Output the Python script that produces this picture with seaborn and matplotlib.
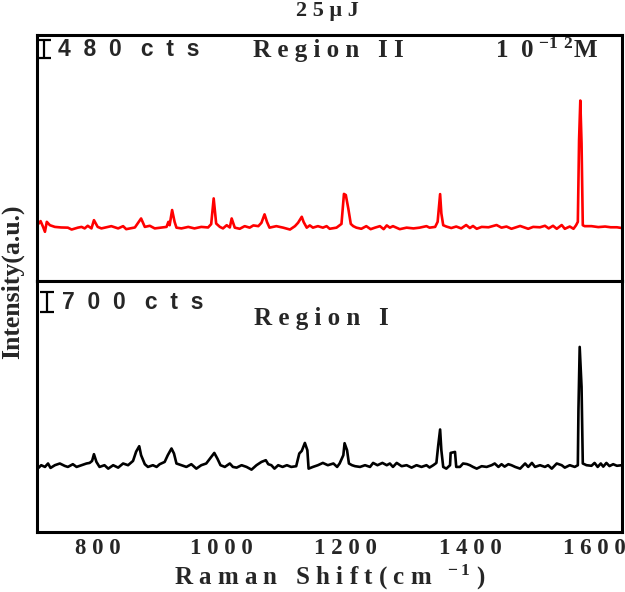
import pandas as pd
import matplotlib
matplotlib.use("Agg")
import matplotlib.pyplot as plt
import seaborn as sns

# Region II spectrum (red), Raman shift (cm-1) and intensity (cts, baseline ~0)
shift_top = [701, 705, 708, 712, 715, 718, 723, 731, 741, 752, 758, 768, 774, 779, 784, 790,
             794, 800, 806, 822, 833, 841, 846, 860, 870, 876, 884, 892, 911, 914, 916, 920,
             924, 927, 935, 946, 956, 967, 978, 983, 987, 991, 997, 1002, 1008, 1013, 1016,
             1021, 1029, 1037, 1045, 1051, 1059, 1064, 1069, 1073, 1077, 1088, 1099, 1110,
             1118, 1123, 1129, 1132, 1137, 1142, 1147, 1155, 1163, 1169, 1174, 1185, 1193,
             1197, 1200, 1204, 1208, 1212, 1217, 1225, 1233, 1240, 1247, 1255, 1261, 1266,
             1271, 1276, 1287, 1298, 1309, 1319, 1330, 1335, 1344, 1348, 1352, 1354, 1357,
             1362, 1370, 1378, 1386, 1394, 1400, 1405, 1411, 1419, 1430, 1443, 1451, 1459,
             1467, 1481, 1489, 1494, 1502, 1513, 1521, 1527, 1534, 1540, 1548, 1553, 1561,
             1567, 1571, 1574, 1576, 1578, 1580, 1582, 1585, 1596, 1607, 1618, 1627, 1637, 1645]
counts_top = [200, 110, 175, 20, -110, 155, 65, 20, 5, 0, -50, 0, 20, -20, 50, -20,
              200, 20, -20, 40, -20, 40, -40, 5, 245, 20, 50, -20, 20, 155, 65, 470,
              155, 0, -20, 20, -20, 20, 5, 95, 780, 110, 20, -20, 65, 5, 245,
              0, -30, 40, 0, 60, 40, 130, 355, 150, 0, 40, 0, -50,
              40, 130, 290, 150, 0, 60, 0, 40, 0, 40, -30, 0, 100,
              900, 870, 510, 100, 40, 0, -30, 40, -40, 0, 40, -40, 60,
              0, 40, -40, 0, -20, 0, 40, 0, 20, 155, 895, 380, 65,
              30, -10, 30, -20, 70, -10, 45, -30, 20, 10, 70, 0, 30,
              -30, 45, 0, -30, 20, 10, 50, -20, 50, -30, 70, -30, 30,
              -30, 60, 155, 2340, 3390, 2250, 65, 40, 40, 15, 30, 10, 10, -10]

# Region I spectrum (black)
shift_bot = [704, 709, 715, 720, 724, 731, 739, 747, 752, 760, 766, 774, 782, 787, 791, 794,
             798, 803, 811, 817, 825, 833, 841, 849, 857, 862, 867, 870, 876, 881, 889, 895,
             900, 908, 913, 919, 923, 927, 935, 943, 951, 959, 967, 975, 981, 988, 993, 998,
             1005, 1013, 1018, 1024, 1032, 1040, 1048, 1056, 1064, 1071, 1075, 1080, 1085,
             1091, 1098, 1105, 1112, 1120, 1125, 1129, 1134, 1138, 1140, 1147, 1155, 1163,
             1171, 1180, 1186, 1190, 1196, 1198, 1202, 1205, 1210, 1215, 1223, 1231, 1239,
             1244, 1251, 1259, 1266, 1271, 1276, 1282, 1290, 1298, 1306, 1314, 1322, 1330,
             1335, 1341, 1346, 1349, 1352, 1354, 1357, 1362, 1368, 1369, 1376, 1378, 1384,
             1389, 1395, 1400, 1405, 1411, 1419, 1427, 1435, 1440, 1446, 1451, 1456, 1462,
             1467, 1473, 1481, 1489, 1494, 1500, 1505, 1513, 1521, 1526, 1532, 1540, 1548,
             1553, 1561, 1569, 1574, 1575, 1577, 1580, 1582, 1588, 1596, 1601, 1606, 1611,
             1615, 1620, 1625, 1631, 1637, 1645]
counts_bot = [-45, 60, 0, 120, -35, 60, 120, 35, 0, 95, 0, 60, 120, 140, 210, 445,
              175, 0, 60, -60, 60, -25, 120, 60, 210, 535, 725, 410, 95, 0, 60, 0,
              95, 175, 410, 645, 470, 120, 60, 0, 95, -60, 60, 120, 290, 490, 290, 60,
              0, 120, 0, -25, 60, 0, -95, 60, 175, 235, 95, 60, -60,
              60, 0, 60, 0, 25, 470, 560, 840, 585, -60, 0, 60, 140,
              60, 120, 0, 120, 410, 830, 585, 120, 60, 25, 0, 60, 0,
              140, 60, 140, 60, 120, 0, 140, 25, 60, -25, 60, 0, 60,
              -20, 60, 140, 760, 1310, 585, 0, -60, 60, 490, 525, 0, 0,
              120, 100, 60, 0, -60, 25, 0, 60, 120, 0, 95, 10, 95,
              60, 0, -60, 120, 0, 140, 0, 60, 0, 60, -60, 120, 60,
              -25, 60, 0, 60, 2000, 4200, 2800, 120, 60, 40, 140, 0, 120,
              10, 140, 30, 95, 40, 60]

xticks = [800, 1000, 1200, 1400, 1600]
xtick_labels = ["8 0 0", "1 0 0 0", "1 2 0 0", "1 4 0 0", "1 6 0 0"]
minor_ticks = [900, 1100, 1300, 1500]

df_top = pd.DataFrame({"shift": shift_top, "counts": counts_top})
df_bot = pd.DataFrame({"shift": shift_bot, "counts": counts_bot})

sns.set_style("white")
plt.rcParams["font.family"] = ["Liberation Serif", "DejaVu Serif"]
plt.rcParams["font.weight"] = "bold"
plt.rcParams["mathtext.default"] = "regular"

fig = plt.figure(figsize=(6.25, 5.92), dpi=100)
ax1 = fig.add_axes([0.059, 0.525, 0.936, 0.416])
ax2 = fig.add_axes([0.059, 0.101, 0.936, 0.424], sharex=ax1)

sns.lineplot(data=df_top, x="shift", y="counts", ax=ax1, color="#ff0000", lw=1.9,
             estimator=None, sort=False)
sns.lineplot(data=df_bot, x="shift", y="counts", ax=ax2, color="black", lw=1.9,
             estimator=None, sort=False)

ax1.set_xlim(702, 1645)
ax1.set_ylim(-1428, 5140)
ax2.set_ylim(-2285, 6500)

for ax in (ax1, ax2):
    ax.set_ylabel("")
    ax.set_xlabel("")
    ax.set_yticks([])
    for sp in ax.spines.values():
        sp.set_linewidth(2.2)
        sp.set_color("black")

ax1.tick_params(axis="x", bottom=False, labelbottom=False)
ax2.set_xticks(xticks)
ax2.set_xticklabels(xtick_labels, fontsize=16.5, fontweight="bold")
ax2.set_xticks(minor_ticks, minor=True)
ax2.tick_params(axis="x", which="major", direction="in", length=8, width=2.2, pad=4)
ax2.tick_params(axis="x", which="minor", direction="in", length=4, width=2.2)

# scale bars
ax1.errorbar([713], [4766], yerr=[240], color="black", capsize=5, elinewidth=1.6, capthick=1.6)
ax2.errorbar([718], [5782], yerr=[350], color="black", capsize=5, elinewidth=1.6, capthick=1.6)

ax1.text(0.036, 0.94, "4  8  0   c  t  s", transform=ax1.transAxes, fontsize=16.5,
         fontweight="bold", family="Liberation Sans", va="center", ha="left")
ax2.text(0.043, 0.915, "7  0  0   c  t  s", transform=ax2.transAxes, fontsize=16.5,
         fontweight="bold", family="Liberation Sans", va="center", ha="left")
ax1.text(0.499, 0.935, "R e g i o n   I I", transform=ax1.transAxes, fontsize=18,
         fontweight="bold", va="center", ha="center")
ax2.text(0.486, 0.853, "R e g i o n   I", transform=ax2.transAxes, fontsize=18,
         fontweight="bold", va="center", ha="center")
ax1.text(0.959, 0.935, "1  0 $^{-1\\ 2}$M", transform=ax1.transAxes, fontsize=18,
         fontweight="bold", va="center", ha="right")

fig.text(0.523, 0.982, "2 5 μ J", fontsize=16, fontweight="bold", ha="center", va="center")
fig.text(0.02, 0.524, "Intensity(a.u.)", fontsize=18.5, fontweight="bold", rotation=90,
         ha="center", va="center")
fig.text(0.528, 0.025, "R a m a n   S h i f t ( c m $^{\\ -1}$ )", fontsize=18,
         fontweight="bold", ha="center", va="center")

fig.savefig("out.png", dpi=100)
